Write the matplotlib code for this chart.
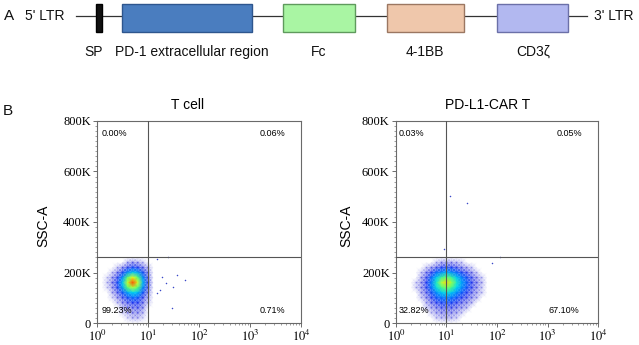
import numpy as np
import matplotlib
matplotlib.use("Agg")
import matplotlib.pyplot as plt
from matplotlib.colors import LinearSegmentedColormap
from matplotlib.ticker import LogLocator, NullFormatter, FuncFormatter, MultipleLocator
from matplotlib.patches import Rectangle

plt.rcParams['font.family'] = ['Liberation Sans', 'DejaVu Sans']
plt.rcParams['mathtext.fontset'] = 'stix'

# ---------------- Panel A: construct ----------------
segment_names = ["SP", "PD-1 extracellular region", "Fc", "4-1BB", "CD3ζ"]
segment_start = [96, 122, 283, 387, 497]
segment_end = [102, 252, 355, 464, 568]
segment_fill = ["#111111", "#4a7dbf", "#a9f5a3", "#efc7ab", "#b2b8f0"]
segment_edge = ["#000000", "#2e568e", "#5f9a5d", "#9b7762", "#6b70a8"]
ltr_labels = ["5' LTR", "3' LTR"]

# ---------------- Panel B: flow cytometry ----------------
panel_titles = ["T cell", "PD-L1-CAR T"]
# quadrant percentages: upper-left, upper-right, lower-left, lower-right
quad_pct_tcell = [0.00, 0.06, 99.23, 0.71]
quad_pct_car = [0.03, 0.05, 32.82, 67.10]
gate_x = 10.0
gate_y = 260000.0
y_ticks = [0, 200000, 400000, 600000, 800000]
x_ticks = [1, 10, 100, 1000, 10000]

# density grid (relative event density)
dens_y = [260000, 240000, 220000, 200000, 180000, 160000, 140000,
          120000, 100000, 80000, 60000, 40000, 20000, 0]
tcell_log_x = [0.1, 0.2, 0.3, 0.4, 0.5, 0.6, 0.7, 0.8, 0.9, 1.0, 1.1, 1.2]
tcell_density = [
    [0, 0, 0, 0, 0, 0, 0, 0, 0, 0, 0, 0],
    [0, 0, 0, 0, 0, .04, .07, .05, .03, 0, 0, 0],
    [0, 0, 0, .03, .07, .13, .18, .16, .09, .04, 0, 0],
    [0, 0, .03, .08, .18, .32, .40, .35, .20, .07, 0, 0],
    [0, .02, .06, .14, .32, .58, .74, .58, .32, .10, 0, 0],
    [0, .03, .08, .18, .40, .70, .95, .72, .38, .12, 0, 0],
    [0, .02, .06, .16, .35, .58, .68, .58, .32, .10, 0, 0],
    [0, 0, .04, .10, .22, .35, .42, .38, .22, .07, 0, 0],
    [0, 0, .02, .06, .12, .20, .26, .23, .13, .04, 0, 0],
    [0, 0, 0, .03, .07, .11, .15, .15, .09, .03, 0, 0],
    [0, 0, 0, 0, .04, .07, .09, .11, .07, 0, 0, 0],
    [0, 0, 0, 0, .02, .04, .06, .07, .04, 0, 0, 0],
    [0, 0, 0, 0, 0, .02, .04, .04, .02, 0, 0, 0],
    [0, 0, 0, 0, 0, 0, 0, 0, 0, 0, 0, 0],
]
car_log_x = [0.3, 0.4, 0.5, 0.6, 0.7, 0.8, 0.9, 1.0, 1.1, 1.2,
             1.3, 1.4, 1.5, 1.6, 1.7, 1.8, 1.9, 2.0]
car_density = [
    [0, 0, 0, 0, 0, 0, 0, 0, 0, 0, 0, 0, 0, 0, 0, 0, 0, 0],
    [0, 0, 0, 0, 0, .03, .05, .06, .05, .04, .03, 0, 0, 0, 0, 0, 0, 0],
    [0, 0, 0, .03, .06, .10, .15, .18, .16, .12, .08, .05, .03, 0, 0, 0, 0, 0],
    [0, 0, .03, .08, .15, .25, .32, .36, .32, .25, .18, .12, .07, .03, 0, 0, 0, 0],
    [0, 0, .05, .12, .25, .40, .52, .60, .52, .40, .30, .20, .12, .06, .03, 0, 0, 0],
    [0, .03, .06, .15, .30, .48, .68, .80, .65, .48, .35, .24, .14, .08, .04, 0, 0, 0],
    [0, .03, .06, .14, .28, .44, .55, .62, .55, .42, .32, .22, .13, .07, .03, 0, 0, 0],
    [0, 0, .05, .10, .20, .32, .40, .45, .40, .32, .24, .16, .10, .05, .03, 0, 0, 0],
    [0, 0, .03, .07, .14, .22, .28, .30, .28, .22, .16, .11, .07, .04, 0, 0, 0, 0],
    [0, 0, 0, .04, .09, .14, .18, .20, .18, .14, .10, .07, .04, 0, 0, 0, 0, 0],
    [0, 0, 0, .03, .05, .08, .11, .12, .11, .08, .06, .04, 0, 0, 0, 0, 0, 0],
    [0, 0, 0, 0, .03, .05, .07, .08, .07, .05, .03, 0, 0, 0, 0, 0, 0, 0],
    [0, 0, 0, 0, 0, .03, .04, .05, .04, .03, 0, 0, 0, 0, 0, 0, 0, 0],
    [0, 0, 0, 0, 0, 0, 0, 0, 0, 0, 0, 0, 0, 0, 0, 0, 0, 0],
]
# isolated events
tcell_out_x = [15, 25, 19, 37, 54, 23, 31, 17, 30, 15]
tcell_out_y = [255000, 261000, 182000, 190000, 172000, 158000, 143000, 131000, 61000, 119000]
car_out_x = [12, 25, 9, 115, 80]
car_out_y = [503000, 475000, 293000, 261000, 238000]

cmap = LinearSegmentedColormap.from_list("flow", [
    (0.00, (0.1, 0.1, 0.85, 0.0)),
    (0.05, (0.15, 0.15, 0.85, 0.22)),
    (0.15, (0.05, 0.15, 0.95, 0.50)),
    (0.28, (0.0, 0.45, 1.0, 0.78)),
    (0.42, (0.0, 0.85, 0.95, 0.95)),
    (0.58, (0.35, 1.0, 0.45, 1.0)),
    (0.75, (0.95, 1.0, 0.1, 1.0)),
    (0.88, (1.0, 0.55, 0.0, 1.0)),
    (1.00, (1.0, 0.1, 0.0, 1.0)),
])

W, H = 639, 345
fig = plt.figure(figsize=(W / 100, H / 100), dpi=100)
bg = fig.add_axes([0, 0, 1, 1])
bg.set_xlim(0, W)
bg.set_ylim(H, 0)
bg.axis('off')

# construct drawing
bg.plot([76, 587], [16, 16], color='#333333', lw=0.9, zorder=1)
label_x = [93.5, 192, 319, 425, 533]
for name, s, e, fc, ec, lx in zip(segment_names, segment_start, segment_end,
                                  segment_fill, segment_edge, label_x):
    bg.add_patch(Rectangle((s, 4), e - s, 28, facecolor=fc, edgecolor=ec, lw=1.0, zorder=2))
    bg.text(lx, 52, name, ha='center', va='center', fontsize=10, color='#111111')
bg.text(25, 16, ltr_labels[0], ha='left', va='center', fontsize=10, color='#111111')
bg.text(594, 16, ltr_labels[1], ha='left', va='center', fontsize=10, color='#111111')
bg.text(9, 16, "A", ha='center', va='center', fontsize=11, color='#111111')
bg.text(8, 111, "B", ha='center', va='center', fontsize=11, color='#111111')


def kfmt(v, p):
    return "0" if v == 0 else f"{int(round(v / 1000))}K"


def pfmt(v, p):
    return f"$10^{{{int(round(np.log10(v)))}}}$"


def draw_panel(ax, title, logx, dens, ox, oy, pct, title_x, lab_off, pct_pos):
    ax.set_xscale('log')
    ax.set_xlim(1, 1e4)
    ax.set_ylim(0, 800000)
    X = 10 ** np.array(logx)
    ax.pcolormesh(X, np.array(dens_y), np.array(dens), shading='gouraud',
                  cmap=cmap, vmin=0, vmax=1, zorder=2)
    ax.scatter(ox, oy, s=1.2, color='#3a48c8', lw=0, zorder=3)
    ax.axvline(gate_x, color='#555555', lw=0.8, zorder=4)
    ax.axhline(gate_y, color='#555555', lw=0.8, zorder=4)
    for sp in ax.spines.values():
        sp.set_color('#6a6a6a')
        sp.set_linewidth(0.8)
    ax.xaxis.set_major_locator(LogLocator(base=10, numticks=6))
    ax.xaxis.set_minor_locator(LogLocator(base=10, subs=np.arange(2, 10), numticks=20))
    ax.xaxis.set_minor_formatter(NullFormatter())
    ax.xaxis.set_major_formatter(FuncFormatter(pfmt))
    ax.set_xticks(x_ticks)
    ax.set_yticks(y_ticks)
    ax.yaxis.set_minor_locator(MultipleLocator(20000))
    ax.yaxis.set_major_formatter(FuncFormatter(kfmt))
    ax.tick_params(which='major', length=3, width=0.6, color='#555555', labelsize=9, pad=1.5)
    ax.tick_params(which='minor', length=1.5, width=0.5, color='#777777')
    for t in ax.get_yticklabels():
        t.set_fontfamily('Liberation Serif')
    ax.text(title_x, 1.08, title, ha='center', va='center', fontsize=10,
            transform=ax.transAxes)
    ax.text(lab_off, 0.48, 'SSC-A', rotation=90, ha='center', va='center',
            fontsize=10, transform=ax.transAxes)
    labels = [f"{v:.2f}%" for v in pct]
    (xl, xr, xr2, yt, yb) = pct_pos
    ax.text(xl, yt, labels[0], ha='left', va='center', fontsize=6.5, transform=ax.transAxes, zorder=5)
    ax.text(xr, yt, labels[1], ha='right', va='center', fontsize=6.5, transform=ax.transAxes, zorder=5)
    ax.text(xl, yb, labels[2], ha='left', va='center', fontsize=6.5, transform=ax.transAxes, zorder=5)
    ax.text(xr2, yb, labels[3], ha='right', va='center', fontsize=6.5, transform=ax.transAxes, zorder=5)


axL = fig.add_axes([97 / W, 22 / H, 204 / W, 202 / H])
axR = fig.add_axes([396 / W, 22 / H, 202 / W, 202 / H])
draw_panel(axL, panel_titles[0], tcell_log_x, tcell_density, tcell_out_x, tcell_out_y,
           quad_pct_tcell, 0.446, -54 / 204, (0.022, 0.922, 0.922, 0.936, 0.064))
draw_panel(axR, panel_titles[1], car_log_x, car_density, car_out_x, car_out_y,
           quad_pct_car, 0.455, -50 / 202, (0.015, 0.921, 0.906, 0.936, 0.064))

fig.savefig("out.png", dpi=100)
